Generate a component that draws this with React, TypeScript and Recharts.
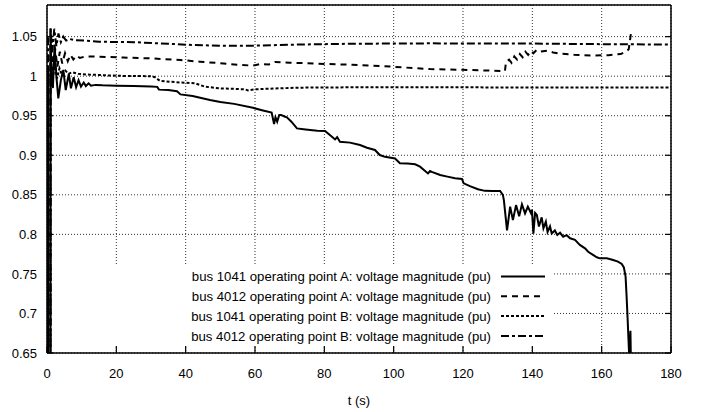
import React from 'react';
import { LineChart, Line, XAxis, YAxis, CartesianGrid, Legend } from 'recharts';

// bus 1041, operating point A
const T_1041_A = [
  0, 0.3, 0.32, 1.0, 1.02, 1.3, 1.7, 2.2, 2.7, 3.26, 4.0, 4.7, 5.4, 6.3, 6.9, 7.7, 8.4, 9.1, 9.8,
  10.6, 11.2, 12.0, 12.7, 14, 16, 20, 25, 30, 31.8, 32.3, 35, 37.5, 38.5, 42, 47, 50, 54, 59.4, 62,
  64.8, 65.5, 65.9, 66.4, 67.0, 67.5, 68.5, 69.2, 70.5, 72.1, 74, 75.9, 78, 80.2, 81.6, 83.1, 83.7,
  84.5, 87.4, 90.3, 92.3, 94.6, 96, 97.5, 100.4, 101.8, 104, 106.2, 107.6, 109.9, 110.5, 111, 113.4,
  115.5, 117.7, 119.7, 120.2, 122, 124.3, 126.3, 128.5, 130.7, 131.5, 131.8, 132.7, 133.6, 134.4,
  135.3, 136.2, 137.0, 137.9, 138.7, 139.6, 139.9, 140.3, 140.8, 141.3, 141.9, 142.7, 143.2, 143.9,
  144.4, 145.1, 145.6, 146.5, 147.2, 148.0, 148.9, 149.9, 150.9, 152.3, 153.7, 155.2, 156.1, 157.5,
  158.6, 159.5, 161.5, 163.3, 164.7, 165.8, 166.4, 166.9, 167.2, 167.5, 167.7, 168.0, 168.3, 168.5,
];
const V_1041_A = [
  1.0, 1.0, 0.55, 0.55, 1.06, 1.0, 0.985, 1.04, 1.0, 0.972, 0.995, 1.008, 0.9825, 1.003, 0.9847,
  0.9986, 0.986, 0.995, 0.9868, 0.992, 0.9875, 0.991, 0.988, 0.989, 0.9885, 0.988, 0.9875, 0.987,
  0.9865, 0.983, 0.9826, 0.981, 0.977, 0.975, 0.97, 0.9674, 0.965, 0.96, 0.957, 0.954, 0.9395, 0.948,
  0.9425, 0.951, 0.951, 0.949, 0.948, 0.9425, 0.934, 0.933, 0.932, 0.931, 0.9307, 0.9256, 0.92,
  0.923, 0.917, 0.916, 0.913, 0.9096, 0.9067, 0.9003, 0.898, 0.896, 0.89, 0.8895, 0.8886, 0.8856,
  0.877, 0.88, 0.879, 0.875, 0.873, 0.871, 0.87, 0.8645, 0.861, 0.857, 0.855, 0.8549, 0.8548, 0.85,
  0.843, 0.805, 0.835, 0.818, 0.837, 0.823, 0.838, 0.8266, 0.835, 0.827, 0.831, 0.801, 0.827, 0.8245,
  0.81, 0.8215, 0.8076, 0.816, 0.803, 0.81, 0.801, 0.805, 0.7992, 0.802, 0.797, 0.799, 0.795, 0.793,
  0.7866, 0.7824, 0.778, 0.774, 0.771, 0.7697, 0.7697, 0.7676, 0.7655, 0.7625, 0.7583, 0.7465, 0.721,
  0.6917, 0.6706, 0.64, 0.678, 0.62,
];

// bus 4012, operating point A
const T_4012_A = [
  0, 0.3, 0.32, 1.0, 1.02, 1.6, 2.3, 3.0, 3.7, 4.4, 5.2, 6.0, 6.8, 7.6, 8.5, 9.5, 11, 15.3, 22, 29.7,
  38.4, 44.1, 49.9, 55, 59.4, 61.5, 64, 65.8, 70, 75, 80.2, 88, 96, 103, 110.5, 116, 122, 128, 132.1,
  132.4, 133.3, 134.0, 134.8, 135.6, 136.4, 137.2, 138.0, 138.8, 139.7, 140.3, 141.2, 142.2, 144.2,
  146, 148, 152, 157, 162, 165.5, 167, 167.8, 168.5,
];
const V_4012_A = [
  1.025, 1.025, 0.6, 0.6, 1.05, 1.008, 1.036, 1.012, 1.031, 1.016, 1.029, 1.019, 1.027, 1.021, 1.026,
  1.023, 1.025, 1.0246, 1.0235, 1.0226, 1.0205, 1.0183, 1.0165, 1.0145, 1.0133, 1.0154, 1.0148, 1.018,
  1.017, 1.0165, 1.0154, 1.0145, 1.013, 1.011, 1.009, 1.0085, 1.0078, 1.007, 1.0065, 1.018, 1.021,
  1.017, 1.025, 1.021, 1.028, 1.024, 1.031, 1.027, 1.032, 1.029, 1.033, 1.031, 1.0322, 1.03, 1.0285,
  1.027, 1.0262, 1.0265, 1.028, 1.031, 1.034, 1.0555,
];

// bus 1041, operating point B
const T_1041_B = [
  0, 0.3, 0.32, 1.0, 1.02, 1.6, 2.2, 2.9, 3.6, 4.4, 5.3, 6.2, 7.2, 9, 12, 15.3, 20, 25, 29.7, 31.0,
  32.6, 35.5, 38.4, 42.7, 45.6, 49.9, 54, 57.1, 58, 60, 66, 73, 90, 110, 130, 150, 180,
];
const V_1041_B = [
  1.005, 1.005, 0.6, 0.6, 1.03, 0.993, 1.016, 0.997, 1.01, 1.001, 1.007, 1.003, 1.005, 1.003, 1.002,
  1.0015, 1.0005, 1.0002, 1.0, 0.999, 0.994, 0.993, 0.992, 0.991, 0.9867, 0.9846, 0.984, 0.9834,
  0.982, 0.9834, 0.9845, 0.9855, 0.986, 0.986, 0.9858, 0.9858, 0.9858,
];

// bus 4012, operating point B
const T_4012_B = [
  0, 0.3, 0.32, 1.0, 1.02, 1.5, 2.1, 2.7, 3.3, 4.0, 4.7, 5.5, 6.5, 8, 11, 15, 25, 35, 40, 49.9, 59,
  73, 87.4, 110.5, 140, 160, 180,
];
const V_4012_B = [
  1.048, 1.048, 0.6, 0.6, 1.062, 1.03, 1.06, 1.038, 1.054, 1.043, 1.05, 1.045, 1.047, 1.0455, 1.045,
  1.0435, 1.043, 1.041, 1.0398, 1.0385, 1.0385, 1.04, 1.041, 1.0415, 1.0412, 1.0405, 1.04,
];

const X_TICKS = [0, 20, 40, 60, 80, 100, 120, 140, 160, 180];
const Y_TICKS = [0.65, 0.7, 0.75, 0.8, 0.85, 0.9, 0.95, 1, 1.05];

const SERIES_NAMES = [
  'bus 1041 operating point A: voltage magnitude (pu)',
  'bus 4012 operating point A: voltage magnitude (pu)',
  'bus 1041 operating point B: voltage magnitude (pu)',
  'bus 4012 operating point B: voltage magnitude (pu)',
];

const zip = (t: number[], v: number[]) => t.map((x, i) => ({ t: x, v: v[i] }));

const SERIES = [
  { name: SERIES_NAMES[0], data: zip(T_1041_A, V_1041_A), dash: undefined as string | undefined },
  { name: SERIES_NAMES[1], data: zip(T_4012_A, V_4012_A), dash: '6 5' },
  { name: SERIES_NAMES[2], data: zip(T_1041_B, V_1041_B), dash: '3 2' },
  { name: SERIES_NAMES[3], data: zip(T_4012_B, V_4012_B), dash: '8 3 3 3' },
];

const FONT = '"Liberation Sans", Arial, Helvetica, sans-serif';
const LINE_W = 2;

function KeyBox() {
  const rows = [12.5, 32.3, 52.1, 71.9];
  return (
    <svg width={501} height={81} style={{ display: 'block' }}>
      {SERIES.map((s, i) => (
        <g key={s.name}>
          <text
            x={439}
            y={rows[i] + 4.6}
            textAnchor="end"
            fontSize={13.2}
            fontFamily={FONT}
            fill="#000"
          >
            {s.name}
          </text>
          <line
            x1={449}
            x2={493}
            y1={rows[i]}
            y2={rows[i]}
            stroke="#000"
            strokeWidth={LINE_W}
            strokeDasharray={s.dash}
          />
        </g>
      ))}
    </svg>
  );
}

const tickStyle = { fontSize: 13, fill: '#000', fontFamily: FONT };
const blank = () => '';

export default function App() {
  return (
    <div style={{ position: 'absolute', left: 0, top: 0 }}>
      <LineChart
        width={705}
        height={412}
        margin={{ top: 4, right: 33, bottom: 0, left: 0 }}
        style={{ fontFamily: FONT, background: '#fff' }}
      >
        <CartesianGrid stroke="#333" strokeDasharray="1 2" strokeWidth={1} />
        <XAxis
          dataKey="t"
          type="number"
          domain={[0, 180]}
          ticks={X_TICKS}
          allowDataOverflow
          height={59}
          tickSize={-7}
          tickMargin={23}
          tick={tickStyle}
          axisLine={{ stroke: '#000', strokeWidth: 1.5 }}
          tickLine={{ stroke: '#000', strokeWidth: 1.2 }}
          label={{ value: 't (s)', position: 'insideBottom', offset: 7, fill: '#000', fontSize: 13 }}
        />
        <XAxis
          xAxisId="top"
          orientation="top"
          type="number"
          domain={[0, 180]}
          ticks={X_TICKS}
          allowDataOverflow
          height={1}
          tickSize={-7}
          tickFormatter={blank}
          tick={tickStyle}
          axisLine={{ stroke: '#000', strokeWidth: 1.5 }}
          tickLine={{ stroke: '#000', strokeWidth: 1.2 }}
        />
        <YAxis
          type="number"
          domain={[0.65, 1.09]}
          ticks={Y_TICKS}
          allowDataOverflow
          width={47}
          tickSize={-6}
          tickMargin={16}
          tick={tickStyle}
          axisLine={{ stroke: '#000', strokeWidth: 1.5 }}
          tickLine={{ stroke: '#000', strokeWidth: 1.2 }}
        />
        <YAxis
          yAxisId="right"
          orientation="right"
          type="number"
          domain={[0.65, 1.09]}
          ticks={Y_TICKS}
          allowDataOverflow
          width={1}
          tickSize={-6}
          tickFormatter={blank}
          tick={tickStyle}
          axisLine={{ stroke: '#000', strokeWidth: 1.5 }}
          tickLine={{ stroke: '#000', strokeWidth: 1.2 }}
        />
        {SERIES.map((s) => (
          <Line
            key={s.name}
            name={s.name}
            data={s.data}
            dataKey="v"
            type="linear"
            stroke="#000"
            strokeWidth={LINE_W}
            strokeDasharray={s.dash}
            dot={false}
            activeDot={false}
            isAnimationActive={false}
          />
        ))}
        <Legend
          layout="horizontal"
          verticalAlign="middle"
          align="center"
          wrapperStyle={{ left: 52, top: 264, width: 501, height: 81, background: '#fff' }}
          content={() => <KeyBox />}
        />
      </LineChart>
    </div>
  );
}
